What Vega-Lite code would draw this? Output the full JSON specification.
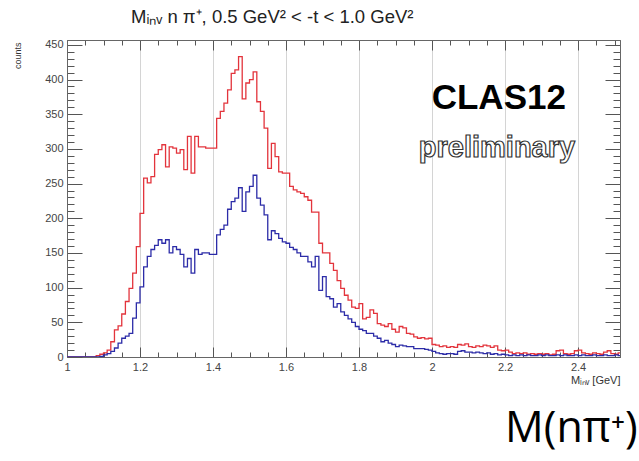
{
  "$schema": "https://vega.github.io/schema/vega-lite/v6.json",
  "width": 553,
  "height": 317,
  "autosize": {"type": "none"},
  "padding": {"left": 67, "top": 40, "right": 19, "bottom": 104},
  "background": "white",
  "config": {
    "view": {"stroke": "#666", "strokeWidth": 1},
    "axis": {"domainColor": "#666", "tickColor": "#555", "labelFont": "Liberation Sans", "labelColor": "#444", "titleFont": "Liberation Sans", "titleColor": "#333", "titleFontWeight": "normal"}
  },
  "title": {
    "text": "Mᵢₙᵥ n π⁺, 0.5 GeV² < -t < 1.0 GeV²",
    "anchor": "start",
    "frame": "group",
    "dx": 64,
    "offset": 12,
    "font": "Liberation Sans",
    "fontSize": 18.5,
    "fontWeight": "normal",
    "color": "#222"
  },
  "data": {"values": [
{"m":1,"r":0,"b":0},{"m":1.01,"r":0,"b":0},{"m":1.02,"r":0,"b":0},{"m":1.03,"r":0,"b":0},{"m":1.04,"r":0,"b":0},{"m":1.05,"r":0,"b":0},{"m":1.06,"r":0,"b":0},{"m":1.07,"r":0,"b":0},{"m":1.08,"r":2,"b":0},{"m":1.09,"r":4,"b":1},
{"m":1.1,"r":6,"b":3},{"m":1.11,"r":10,"b":5},{"m":1.12,"r":22,"b":8},{"m":1.13,"r":39,"b":13},{"m":1.14,"r":45,"b":20},{"m":1.15,"r":62,"b":27},{"m":1.16,"r":80,"b":30},{"m":1.17,"r":99,"b":34},{"m":1.18,"r":121,"b":56},{"m":1.19,"r":159,"b":78},
{"m":1.2,"r":207,"b":101},{"m":1.21,"r":258,"b":130},{"m":1.22,"r":251,"b":145},{"m":1.23,"r":260,"b":155},{"m":1.24,"r":292,"b":161},{"m":1.25,"r":299,"b":169},{"m":1.26,"r":306,"b":164},{"m":1.27,"r":274,"b":169},{"m":1.28,"r":303,"b":150},{"m":1.29,"r":301,"b":159},
{"m":1.3,"r":294,"b":155},{"m":1.31,"r":299,"b":148},{"m":1.32,"r":270,"b":130},{"m":1.33,"r":318,"b":142},{"m":1.34,"r":265,"b":121},{"m":1.35,"r":318,"b":155},{"m":1.36,"r":303,"b":148},{"m":1.37,"r":303,"b":150},{"m":1.38,"r":301,"b":150},{"m":1.39,"r":301,"b":148},
{"m":1.4,"r":301,"b":148},{"m":1.41,"r":344,"b":176},{"m":1.42,"r":354,"b":184},{"m":1.43,"r":366,"b":190},{"m":1.44,"r":385,"b":213},{"m":1.45,"r":409,"b":224},{"m":1.46,"r":414,"b":229},{"m":1.47,"r":433,"b":244},{"m":1.48,"r":372,"b":210},{"m":1.49,"r":395,"b":238},
{"m":1.5,"r":400,"b":246},{"m":1.51,"r":411,"b":262},{"m":1.52,"r":368,"b":229},{"m":1.53,"r":354,"b":219},{"m":1.54,"r":330,"b":205},{"m":1.55,"r":272,"b":169},{"m":1.56,"r":308,"b":182},{"m":1.57,"r":289,"b":178},{"m":1.58,"r":267,"b":171},{"m":1.59,"r":265,"b":166},
{"m":1.6,"r":265,"b":164},{"m":1.61,"r":246,"b":158},{"m":1.62,"r":241,"b":155},{"m":1.63,"r":238,"b":150},{"m":1.64,"r":236,"b":145},{"m":1.65,"r":231,"b":145},{"m":1.66,"r":226,"b":137},{"m":1.67,"r":209,"b":130},{"m":1.68,"r":209,"b":145},{"m":1.69,"r":164,"b":96},
{"m":1.7,"r":150,"b":116},{"m":1.71,"r":150,"b":87},{"m":1.72,"r":135,"b":84},{"m":1.73,"r":125,"b":72},{"m":1.74,"r":110,"b":77},{"m":1.75,"r":99,"b":65},{"m":1.76,"r":89,"b":60},{"m":1.77,"r":82,"b":55},{"m":1.78,"r":72,"b":50},{"m":1.79,"r":70,"b":44},
{"m":1.8,"r":77,"b":40},{"m":1.81,"r":55,"b":38},{"m":1.82,"r":57,"b":34},{"m":1.83,"r":68,"b":34},{"m":1.84,"r":63,"b":30},{"m":1.85,"r":48,"b":27},{"m":1.86,"r":46,"b":22},{"m":1.87,"r":44,"b":24},{"m":1.88,"r":48,"b":20},{"m":1.89,"r":40,"b":18},
{"m":1.9,"r":36,"b":15},{"m":1.91,"r":44,"b":17},{"m":1.92,"r":42,"b":16},{"m":1.93,"r":34,"b":15},{"m":1.94,"r":33,"b":15},{"m":1.95,"r":29,"b":12},{"m":1.96,"r":27,"b":12},{"m":1.97,"r":28,"b":12},{"m":1.98,"r":26,"b":11},{"m":1.99,"r":27,"b":10},
{"m":2,"r":18,"b":8},{"m":2.01,"r":17,"b":6},{"m":2.02,"r":15,"b":5},{"m":2.03,"r":16,"b":4},{"m":2.04,"r":14,"b":5},{"m":2.05,"r":15,"b":5},{"m":2.06,"r":14,"b":4},{"m":2.07,"r":18,"b":8},{"m":2.08,"r":17,"b":9},{"m":2.09,"r":19,"b":7},
{"m":2.1,"r":15,"b":7},{"m":2.11,"r":14,"b":6},{"m":2.12,"r":16,"b":7},{"m":2.13,"r":15,"b":6},{"m":2.14,"r":17,"b":5},{"m":2.15,"r":16,"b":6},{"m":2.16,"r":14,"b":4},{"m":2.17,"r":16,"b":5},{"m":2.18,"r":10,"b":3},{"m":2.19,"r":9,"b":4},
{"m":2.2,"r":10,"b":3},{"m":2.21,"r":7,"b":2},{"m":2.22,"r":5,"b":3},{"m":2.23,"r":6,"b":2},{"m":2.24,"r":5,"b":3},{"m":2.25,"r":6,"b":2},{"m":2.26,"r":4,"b":3},{"m":2.27,"r":5,"b":2},{"m":2.28,"r":4,"b":2},{"m":2.29,"r":5,"b":3},
{"m":2.3,"r":4,"b":2},{"m":2.31,"r":5,"b":3},{"m":2.32,"r":3,"b":2},{"m":2.33,"r":4,"b":2},{"m":2.34,"r":9,"b":3},{"m":2.35,"r":10,"b":2},{"m":2.36,"r":5,"b":3},{"m":2.37,"r":4,"b":2},{"m":2.38,"r":5,"b":2},{"m":2.39,"r":9,"b":3},
{"m":2.4,"r":10,"b":2},{"m":2.41,"r":6,"b":3},{"m":2.42,"r":5,"b":2},{"m":2.43,"r":4,"b":2},{"m":2.44,"r":6,"b":3},{"m":2.45,"r":5,"b":2},{"m":2.46,"r":4,"b":2},{"m":2.47,"r":7,"b":3},{"m":2.48,"r":9,"b":2},{"m":2.49,"r":5,"b":2},
{"m":2.5,"r":4,"b":3},{"m":2.51,"r":6,"b":2},{"m":2.52,"r":6,"b":2}
  ]},
  "layer": [
    {
      "mark": {"type": "line", "interpolate": "step-after", "color": "#e3343c", "strokeWidth": 1.3, "clip": true},
      "encoding": {
        "x": {"field": "m", "type": "quantitative",
          "scale": {"domain": [1, 2.515], "nice": false, "zero": false},
          "axis": {"orient": "bottom",
            "values": [1,1.05,1.1,1.15,1.2,1.25,1.3,1.35,1.4,1.45,1.5,1.55,1.6,1.65,1.7,1.75,1.8,1.85,1.9,1.95,2,2.05,2.1,2.15,2.2,2.25,2.3,2.35,2.4,2.45,2.5],
            "format": "~g",
            "labelExpr": "abs(datum.value*5 - round(datum.value*5)) < 0.001 ? datum.label : ''",
            "labelOverlap": false, "labelFlush": false,
            "labelFontSize": 11, "labelPadding": 14,
            "tickSize": {"condition": {"test": "abs(datum.value*5 - round(datum.value*5)) < 0.001", "value": -10}, "value": -5},
            "grid": true, "gridColor": "#d4d4d4",
            "gridOpacity": {"condition": {"test": "abs(datum.value*5 - round(datum.value*5)) < 0.001 && datum.value > 1.01", "value": 1}, "value": 0},
            "title": "Mᵢₙᵥ [GeV]", "titleAnchor": "end", "titleFontSize": 11, "titleY": 26, "titleAlign": "right", "titleBaseline": "alphabetic"}},
        "y": {"field": "r", "type": "quantitative",
          "scale": {"domain": [0, 457], "nice": false},
          "axis": {"orient": "left",
            "values": [0,10,20,30,40,50,60,70,80,90,100,110,120,130,140,150,160,170,180,190,200,210,220,230,240,250,260,270,280,290,300,310,320,330,340,350,360,370,380,390,400,410,420,430,440,450],
            "format": "d",
            "labelExpr": "datum.value % 50 === 0 ? datum.label : ''",
            "labelOverlap": false, "labelFlush": false,
            "labelFontSize": 11, "labelPadding": 19,
            "tickSize": {"condition": {"test": "datum.value % 50 === 0", "value": -15}, "value": -7},
            "grid": false,
            "title": "counts", "titleFontSize": 9, "titleAnchor": "end", "titleAngle": 270, "titleAlign": "right", "titleBaseline": "bottom", "titleX": -45, "titleY": 2}}
      }
    },
    {
      "mark": {"type": "line", "interpolate": "step-after", "color": "#2c2ca8", "strokeWidth": 1.3, "clip": true},
      "encoding": {
        "x": {"field": "m", "type": "quantitative",
          "axis": {"orient": "top",
            "values": [1,1.05,1.1,1.15,1.2,1.25,1.3,1.35,1.4,1.45,1.5,1.55,1.6,1.65,1.7,1.75,1.8,1.85,1.9,1.95,2,2.05,2.1,2.15,2.2,2.25,2.3,2.35,2.4,2.45,2.5],
            "labels": false, "grid": false, "title": null,
            "tickSize": {"condition": {"test": "abs(datum.value*5 - round(datum.value*5)) < 0.001", "value": -10}, "value": -5}}},
        "y": {"field": "b", "type": "quantitative",
          "axis": {"orient": "right",
            "values": [0,10,20,30,40,50,60,70,80,90,100,110,120,130,140,150,160,170,180,190,200,210,220,230,240,250,260,270,280,290,300,310,320,330,340,350,360,370,380,390,400,410,420,430,440,450],
            "labels": false, "grid": false, "title": null,
            "tickSize": {"condition": {"test": "datum.value % 50 === 0", "value": -15}, "value": -7}}}
      }
    },
    {
      "data": {"values": [{"x": 2.183, "y": 373, "t": "CLAS12"}]},
      "mark": {"type": "text", "font": "Liberation Sans", "fontWeight": "bold", "fontSize": 35, "color": "#000", "align": "center", "baseline": "middle"},
      "encoding": {
        "x": {"field": "x", "type": "quantitative", "axis": null},
        "y": {"field": "y", "type": "quantitative", "axis": null},
        "text": {"field": "t"}
      }
    },
    {
      "data": {"values": [{"x": 2.178, "y": 288, "t": "preliminary"}]},
      "mark": {"type": "text", "font": "Liberation Sans", "fontWeight": "bold", "fontSize": 29, "fill": "#fff", "stroke": "#333", "strokeWidth": 1.2, "align": "center", "baseline": "alphabetic"},
      "encoding": {
        "x": {"field": "x", "type": "quantitative", "axis": null},
        "y": {"field": "y", "type": "quantitative", "axis": null},
        "text": {"field": "t"}
      }
    },
    {
      "data": {"values": [{"x": 2.2, "y": -122.6, "t": "M(nπ⁺)"}]},
      "mark": {"type": "text", "font": "Open Sans", "fontSize": 43, "color": "#000", "align": "left", "baseline": "alphabetic"},
      "encoding": {
        "x": {"field": "x", "type": "quantitative", "axis": null},
        "y": {"field": "y", "type": "quantitative", "axis": null},
        "text": {"field": "t"}
      }
    }
  ],
  "resolve": {"axis": {"x": "independent", "y": "independent"}}
}
